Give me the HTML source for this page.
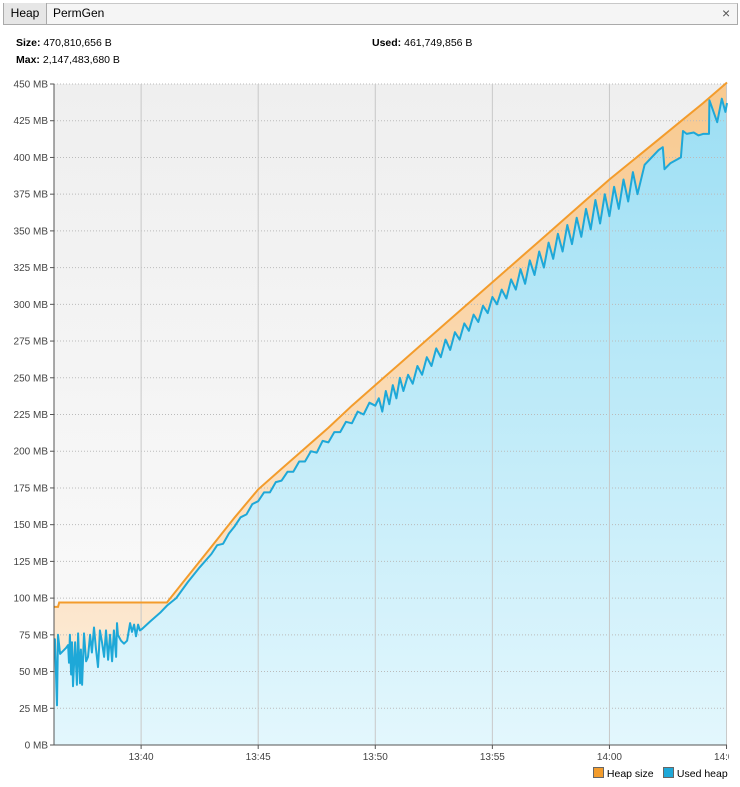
<!DOCTYPE html>
<html><head><meta charset="utf-8"><style>
body{margin:0;width:740px;height:787px;background:#fff;font-family:"Liberation Sans",sans-serif;font-size:11px;color:#000;position:relative;overflow:hidden}
.abs{position:absolute}
</style></head><body>
<div class="abs" style="left:3px;top:3px;width:733px;height:20px;background:#f5f5f5;border:1px solid #aaa;border-top-color:#c8c8c8"></div>
<div class="abs" style="left:3px;top:3px;width:42px;height:21px;background:#e6e6e6;border-right:1px solid #aaa;border-left:1px solid #aaa;line-height:21px;text-align:center;font-size:12px">Heap</div>
<div class="abs" style="left:53px;top:3px;height:21px;line-height:21px;font-size:12px">PermGen</div>
<div class="abs" style="left:722px;top:3px;height:21px;line-height:21px;font-size:14px;color:#555">×</div>
<div class="abs" style="left:16px;top:37px;font-size:10.5px"><b>Size:</b> 470,810,656 B</div>
<div class="abs" style="left:16px;top:54px;font-size:10.5px"><b>Max:</b> 2,147,483,680 B</div>
<div class="abs" style="left:372px;top:37px;font-size:10.5px"><b>Used:</b> 461,749,856 B</div>
<svg class="abs" style="left:0;top:0" width="740" height="787">
<defs>
<linearGradient id="bg" x1="0" y1="0" x2="0" y2="1"><stop offset="0" stop-color="#efefef"/><stop offset="1" stop-color="#fbfbfb"/></linearGradient>
<linearGradient id="ub" x1="0" y1="0" x2="0" y2="1"><stop offset="0" stop-color="#9ddff4"/><stop offset="1" stop-color="#e3f7fd"/></linearGradient>
<linearGradient id="hb" x1="0" y1="0" x2="0" y2="1"><stop offset="0" stop-color="#f8c98f"/><stop offset="1" stop-color="#fdeedd"/></linearGradient>
<clipPath id="clipR"><rect x="0" y="0" width="729" height="787"/></clipPath>
</defs>
<g id="plot" clip-path="url(#clipR)"></g>
</svg>
<div class="abs" style="left:593px;top:767px;font-size:10.5px"><span style="display:inline-block;width:9px;height:9px;background:#f39c2c;border:1px solid #666;vertical-align:-1px"></span> Heap size</div>
<div class="abs" style="left:663px;top:767px;font-size:10.5px"><span style="display:inline-block;width:9px;height:9px;background:#1ea8d8;border:1px solid #666;vertical-align:-1px"></span> Used heap</div>
<script>
const yTicks=[0,25,50,75,100,125,150,175,200,225,250,275,300,325,350,375,400,425,450];
const xTickTimes=[40,45,50,55,60,65];
const xTickLabels=["13:40","13:45","13:50","13:55","14:00","14:05"];
const heapT=[36.28,36.45,36.5,41.1,42,43,44,45,46,47,48,49,50,51,52,53,54,55,56,57,58,59,60,61,62,63,64,65.02];
const heapV=[94,94,97,97,115,135,155,174,188,202,216,231,245,259,273,287,301,315,329,343,357,371,385,398,411,424,437,451];
const usedT=[36.28,36.32,36.41,36.45,36.54,36.79,36.88,36.92,36.96,37.01,37.05,37.09,37.18,37.26,37.31,37.39,37.43,37.48,37.56,37.65,37.73,37.82,37.90,37.99,38.07,38.16,38.20,38.24,38.33,38.42,38.50,38.59,38.67,38.76,38.84,38.93,38.97,39.01,39.14,39.27,39.40,39.53,39.61,39.70,39.78,39.87,39.95,40.04,40.38,40.81,41.11,41.5,42,42.5,43,43.25,43.5,43.75,44,44.25,44.5,44.75,45,45.25,45.5,45.75,46,46.25,46.5,46.75,47,47.25,47.5,47.75,48,48.25,48.5,48.75,49,49.25,49.5,49.75,50,50.15,50.3,50.45,50.6,50.75,50.9,51.05,51.2,51.4,51.6,51.8,52,52.2,52.4,52.6,52.8,53,53.2,53.4,53.6,53.8,54,54.2,54.4,54.6,54.8,55,55.2,55.4,55.6,55.8,56,56.2,56.4,56.6,56.8,57,57.2,57.4,57.6,57.8,58,58.2,58.4,58.6,58.8,59,59.2,59.4,59.6,59.8,60,60.2,60.4,60.6,60.8,61,61.2,61.5,61.8,62.1,62.28,62.35,62.6,63.05,63.14,63.3,63.6,63.8,64.0,64.25,64.27,64.6,64.8,64.95,65.02];
const usedV=[72,72,27,75,62,66,68,56,75,48,70,40,70,41,76,42,65,41,76,57,60,75,63,80,66,53,65,78,70,60,78,58,75,57,78,60,83,75,71,69,71,83,77,82,74,82,78,79,84,90,95,100,111,121,130,136,137,144,149,155,157,164,166,172,172,179,180,186,186,193,193,200,199,207,206,213,213,220,219,227,225,233,231,236,227,241,232,245,236,250,241,252,246,258,252,264,258,270,264,276,269,281,276,287,282,293,288,299,294,305,300,310,304,317,310,324,314,330,320,336,325,342,331,348,336,354,341,359,346,365,351,371,355,375,360,380,365,385,370,390,375,395,400,405,407,392,396,400,418,416,417,415,416,416,439,424,440,431,437];
const L=54,R=727,T=84,B=745,t0=36.28,t1=65.02,vMax=450;
const xs=t=>L+(t-t0)/(t1-t0)*(R-L);
const ys=v=>B-v/vMax*(B-T);
const NS="http://www.w3.org/2000/svg";
const g=document.getElementById('plot');
function mk(tag,attrs){const e=document.createElementNS(NS,tag);for(const k in attrs)e.setAttribute(k,attrs[k]);g.appendChild(e);return e;}
let e=mk('rect',{x:L,y:T,width:R-L,height:B-T,fill:'url(#bg)'});


const hp=heapT.map((t,i)=>xs(t).toFixed(1)+','+ys(heapV[i]).toFixed(1));
const up=usedT.map((t,i)=>xs(t).toFixed(1)+','+ys(usedV[i]).toFixed(1));
e=mk('polygon',{points:hp.join(' ')+' '+xs(t1)+','+B+' '+L+','+B,fill:'url(#hb)'});


e=mk('polygon',{points:up.join(' ')+' '+xs(t1)+','+B+' '+L+','+B,fill:'url(#ub)'});


yTicks.forEach(v=>{
  const y=ys(v);
  let l=mk('line',{x1:L,x2:R,y1:y,y2:y,stroke:'#bbb','stroke-dasharray':'1,2'});
  
  
  let tk=mk('line',{x1:L-4,x2:L,y1:y,y2:y,stroke:'#555'});
  
  
  let tx=mk('text',{x:L-6,y:y+3.5,'text-anchor':'end','font-size':'10','fill':'#444','font-family':'Liberation Sans, sans-serif'});
  tx.textContent=v+' MB';
  
  
});
xTickTimes.forEach((t,i)=>{
  const x=xs(t);
  let l=mk('line',{x1:x,x2:x,y1:T,y2:B,stroke:'#c8c8c8'});
  
  
  let tk=mk('line',{x1:x,x2:x,y1:B,y2:B+4,stroke:'#555'});
  
  
  let tx=mk('text',{x:x,y:B+15,'text-anchor':'middle','font-size':'10','fill':'#444','font-family':'Liberation Sans, sans-serif'});
  tx.textContent=xTickLabels[i];
  
  
});
e=mk('polyline',{points:hp.join(' '),fill:'none',stroke:'#f39c2c','stroke-width':2});


e=mk('polyline',{points:up.join(' '),fill:'none',stroke:'#1ea8d8','stroke-width':2,'stroke-linejoin':'round'});


e=mk('line',{x1:L,x2:L,y1:T,y2:B,stroke:'#555'});


e=mk('line',{x1:L,x2:R,y1:B,y2:B,stroke:'#555'});


</script>
</body></html>
